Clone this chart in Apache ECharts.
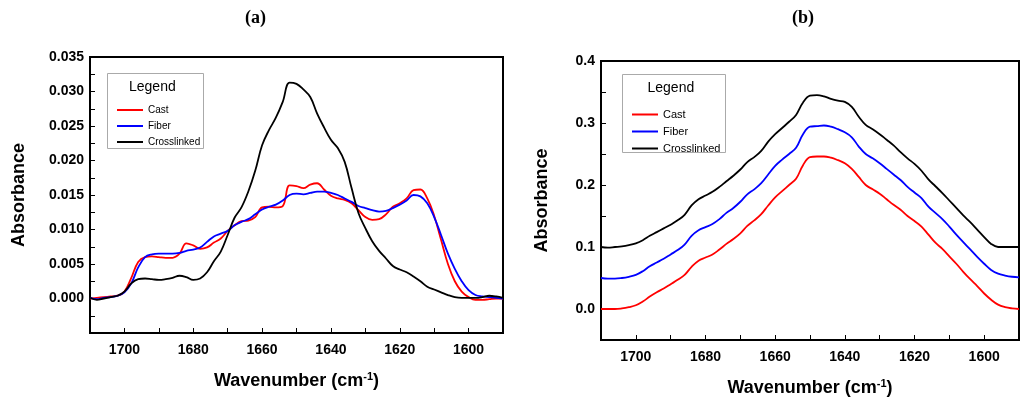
<!DOCTYPE html>
<html>
<head>
<meta charset="utf-8">
<script src="https://cdn.jsdelivr.net/npm/echarts@6/dist/echarts.min.js"></script>
<style>html,body{margin:0;padding:0;background:#fff}#main{width:1024px;height:404px}</style>
</head>
<body>
<div id="main"></div>
<script>
// wavenumbers, 1710 -> 1590 step 2
var wave = [];
for (var w = 1710; w >= 1590; w -= 2) wave.push(w);

// panel (a)
var castA = [0,0.0001,0.0002,0.0003,0.0004,0.001,0.003,0.0053,0.006,0.0061,0.006,0.0059,0.0059,0.0065,0.008,0.0077,0.0072,0.0074,0.0081,0.0087,
  0.0098,0.0106,0.0112,0.0113,0.0118,0.0132,0.0133,0.0132,0.0134,0.0164,0.0163,0.016,0.0165,0.0167,0.0158,0.0149,0.0145,0.0143,0.0138,0.0128,
  0.0118,0.0114,0.0115,0.0122,0.0133,0.0138,0.0145,0.0157,0.0158,0.0145,0.012,0.0085,0.005,0.0025,0.001,0.0002,-0.0002,-0.0002,-0.0001,0,0];
var fiberA = [0.0001,-0.0001,0.0001,0.0002,0.0004,0.0009,0.0022,0.0045,0.006,0.0064,0.0065,0.0065,0.0065,0.0066,0.0069,0.0071,0.0074,0.0082,0.009,0.0094,
  0.0098,0.0106,0.0111,0.0115,0.0122,0.0129,0.0133,0.0136,0.0142,0.015,0.0152,0.0151,0.0153,0.0155,0.0155,0.0153,0.015,0.0145,0.014,0.0134,
  0.0131,0.0128,0.0126,0.0127,0.0131,0.0136,0.0142,0.015,0.0148,0.0138,0.0118,0.0092,0.0065,0.0043,0.0025,0.0012,0.0005,0.0003,0.0002,0.0001,0];
var crossA = [0.0001,-0.0002,0,0.0002,0.0004,0.001,0.0022,0.0028,0.0029,0.0028,0.0027,0.0028,0.003,0.0033,0.0031,0.0027,0.0029,0.0038,0.0054,0.0068,
  0.0092,0.0117,0.0132,0.0155,0.0185,0.0222,0.0244,0.0262,0.0285,0.0313,0.0311,0.0303,0.0292,0.0268,0.0248,0.023,0.0218,0.0198,0.016,0.0124,
  0.0102,0.0083,0.0069,0.0058,0.0047,0.0042,0.0038,0.0032,0.0025,0.0017,0.0013,0.0009,0.0005,0.0002,0.0001,0.0001,0.0001,0.0002,0.0004,0.0003,0.0001];

// panel (b)
var castB = [0,0,0,0.001,0.003,0.006,0.012,0.02,0.027,0.033,0.04,0.047,0.055,0.068,0.078,0.083,0.088,0.096,0.105,0.113,
  0.122,0.134,0.143,0.153,0.167,0.18,0.19,0.2,0.21,0.232,0.245,0.246,0.246,0.244,0.24,0.235,0.226,0.213,0.2,0.193,
  0.186,0.177,0.168,0.16,0.15,0.142,0.133,0.12,0.107,0.097,0.085,0.073,0.06,0.048,0.037,0.025,0.015,0.007,0.003,0.001,0];
var fiberB = [0.05,0.049,0.049,0.05,0.052,0.055,0.061,0.069,0.075,0.081,0.088,0.095,0.104,0.118,0.127,0.132,0.137,0.145,0.155,0.163,
  0.173,0.185,0.193,0.203,0.217,0.231,0.241,0.25,0.26,0.282,0.294,0.295,0.296,0.294,0.29,0.285,0.277,0.262,0.25,0.243,
  0.235,0.226,0.217,0.208,0.197,0.188,0.179,0.165,0.155,0.145,0.133,0.12,0.108,0.096,0.084,0.073,0.063,0.057,0.054,0.052,0.051];
var crossB = [0.1,0.099,0.1,0.101,0.103,0.106,0.111,0.118,0.124,0.13,0.136,0.143,0.152,0.167,0.177,0.183,0.189,0.197,0.206,0.215,
  0.225,0.237,0.245,0.255,0.27,0.282,0.292,0.302,0.313,0.333,0.344,0.345,0.343,0.339,0.336,0.334,0.326,0.31,0.297,0.29,
  0.282,0.273,0.264,0.253,0.243,0.234,0.223,0.209,0.198,0.187,0.175,0.163,0.151,0.14,0.128,0.116,0.105,0.1,0.1,0.1,0.1];

var seriesNames = ['Cast', 'Fiber', 'Crosslinked'];
var colors = ['#ff0000', '#0000ff', '#000000'];

function pairs(ys){ return wave.map(function(x,i){ return [x, ys[i]]; }); }

var font = 'Liberation Sans, Arial, sans-serif';
var xName = {
  name: '{n|Wavenumber (cm}{s|-1}{n|)}',
  nameLocation: 'middle', nameGap: 38,
  nameTextStyle: { rich: { n: { fontSize: 18, fontWeight: 'bold', fontFamily: font, color: '#000' },
                           s: { fontSize: 11, fontWeight: 'bold', fontFamily: font, color: '#000', verticalAlign: 'top', padding: [0,0,10,0] } } }
};

function xAxis(idx){
  return Object.assign({
    type: 'value', gridIndex: idx, inverse: true, min: 1590, max: 1710, interval: 10,
    axisLine: { show: true, onZero: false, lineStyle: { color: '#000', width: 2 } },
    axisTick: { inside: true, length: 5, lineStyle: { color: '#000' } },
    axisLabel: { fontFamily: font, fontWeight: 'bold', fontSize: 14, color: '#000', margin: 10,
      formatter: function(v){ return (v % 20 === 0) ? v : ''; } },
    splitLine: { show: false }
  }, xName);
}

function yAxis(idx, mn, mx, step, labStep, dec){
  return {
    type: 'value', gridIndex: idx, min: mn, max: mx, interval: step,
    name: 'Absorbance', nameLocation: 'middle', nameGap: idx === 0 ? 62 : 50,
    nameTextStyle: { fontSize: 18, fontWeight: 'bold', fontFamily: font, color: '#000' },
    axisLine: { show: true, onZero: false, lineStyle: { color: '#000', width: 2 } },
    axisTick: { inside: true, length: 5, lineStyle: { color: '#000' } },
    axisLabel: { fontFamily: font, fontWeight: 'bold', fontSize: 14, color: '#000', margin: 6,
      formatter: function(v){
        var k = Math.round(v / labStep * 1000) / 1000;
        if (v < -1e-9 || Math.abs(k - Math.round(k)) > 1e-6) return '';
        return v.toFixed(dec);
      } },
    splitLine: { show: false }
  };
}

var series = [];
[[castA, fiberA, crossA], [castB, fiberB, crossB]].forEach(function(set, g){
  set.forEach(function(ys, i){
    series.push({ name: seriesNames[i], type: 'line', xAxisIndex: g, yAxisIndex: g, data: pairs(ys),
      smooth: 0.4, showSymbol: false, lineStyle: { color: colors[i], width: 1.8 }, itemStyle: { color: colors[i] } });
  });
});

function legendBox(x, y, w, h){
  return [
    { type: 'rect', left: x, top: y, shape: { width: w, height: h }, style: { fill: '#fff', stroke: '#aaa', lineWidth: 1 }, z: 5 },
    { type: 'text', left: x + w / 2 - 26, top: y + 7, style: { text: 'Legend', font: '14px ' + font, fill: '#000' }, z: 6 }
  ];
}

var chart = echarts.init(document.getElementById('main'));
chart.setOption({
  animation: false,
  title: [
    { text: '(a)', left: 240, top: 4, textStyle: { fontFamily: 'Liberation Serif, serif', fontWeight: 'bold', fontSize: 18, color: '#000' } },
    { text: '(b)', left: 787, top: 4, textStyle: { fontFamily: 'Liberation Serif, serif', fontWeight: 'bold', fontSize: 18, color: '#000' } }
  ],
  grid: [
    { left: 90, top: 57, width: 413, height: 276, show: true, borderColor: '#000', borderWidth: 2 },
    { left: 601, top: 61, width: 418, height: 279, show: true, borderColor: '#000', borderWidth: 2 }
  ],
  xAxis: [xAxis(0), xAxis(1)],
  yAxis: [yAxis(0, -0.005, 0.035, 0.0025, 0.005, 3), yAxis(1, -0.05, 0.4, 0.05, 0.1, 1)],
  legend: [
    { data: seriesNames, orient: 'vertical', left: 112, top: 100, itemWidth: 26, itemHeight: 2, itemGap: 6, icon: 'rect',
      textStyle: { fontFamily: font, fontSize: 10, color: '#000' }, z: 7 },
    { data: seriesNames, orient: 'vertical', left: 627, top: 104, itemWidth: 26, itemHeight: 2, itemGap: 6, icon: 'rect',
      textStyle: { fontFamily: font, fontSize: 11, color: '#000' }, z: 7 }
  ],
  graphic: legendBox(107, 73, 96, 75).concat(legendBox(622, 74, 103, 78)),
  series: series
});
</script>
</body>
</html>
